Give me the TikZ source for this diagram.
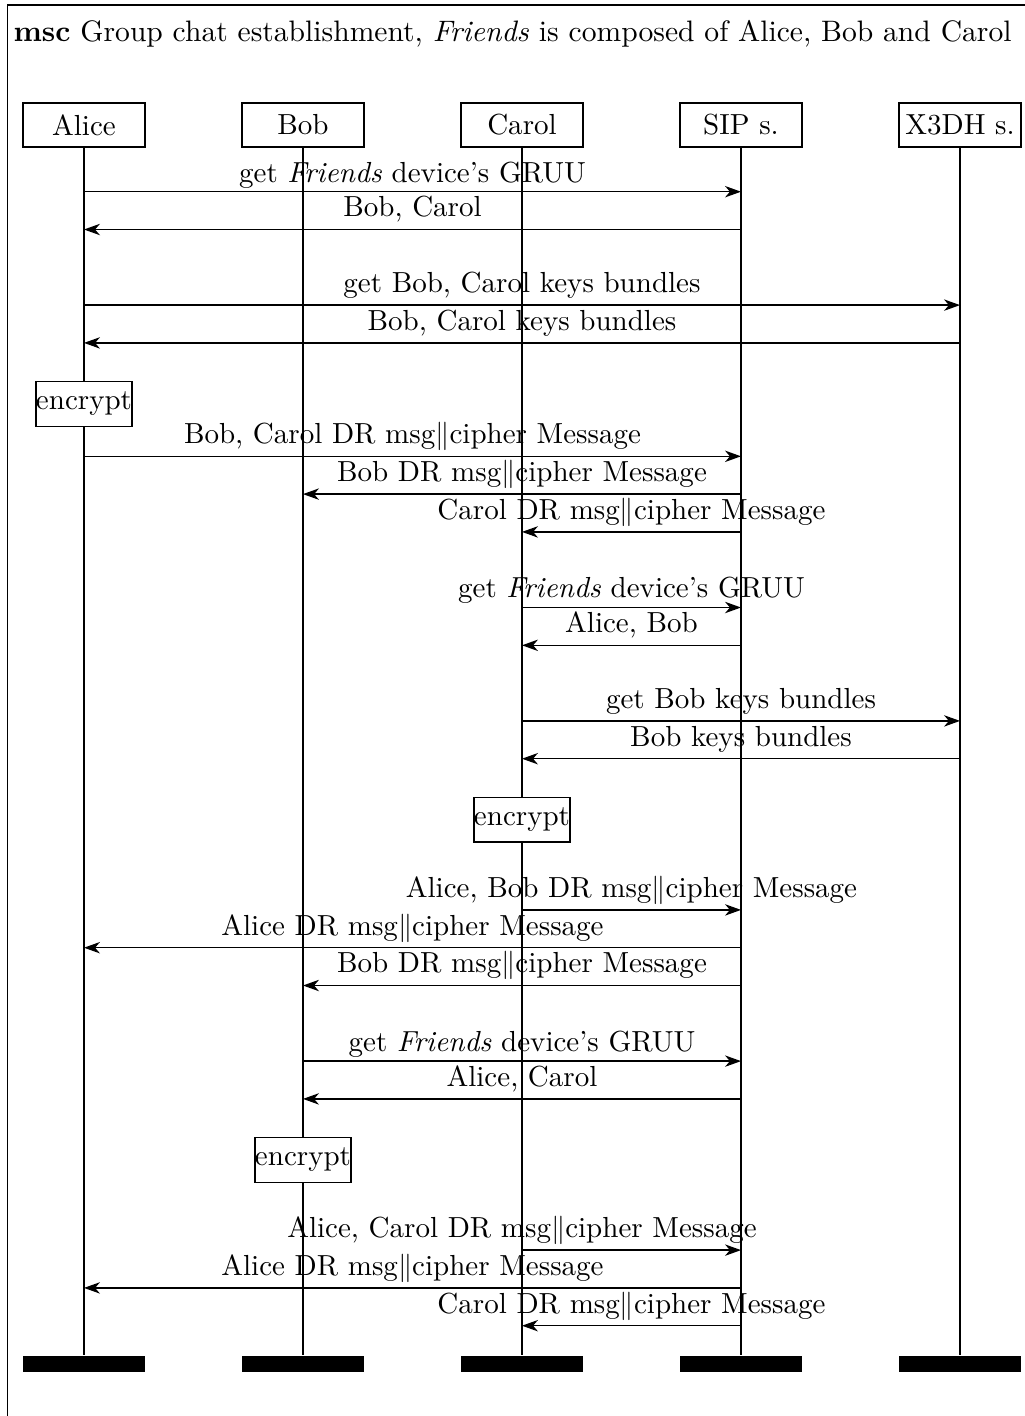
\documentclass[tikz,border=0pt]{standalone}
\usetikzlibrary{arrows.meta}
\begin{document}
\begin{tikzpicture}[x=0.3515pt,y=-0.3515pt, line width=0.45pt,
  every node/.style={font=\fontsize{10.2}{12.3}\selectfont},
  inst/.style={draw, fill=white, minimum width=42.9pt, minimum height=15.5pt, inner sep=0pt},
  bar/.style={fill=black, minimum width=42.9pt, minimum height=5.6pt, inner sep=0pt},
  act/.style={draw, fill=white, inner xsep=0pt, inner ysep=0pt, minimum height=15.8pt, anchor=north},
  msg/.style={-{Stealth[length=5.6pt,width=4pt,inset=1.7pt]}},
  lbl/.style={anchor=base, inner sep=0pt, yshift=4.46pt},
  lbllow/.style={anchor=base, inner sep=0pt, yshift=3.35pt}]
\useasboundingbox (0,0) rectangle (1025,1416);
\clip (0,0) rectangle (1025,1416);
\draw (7.5,5) rectangle (1045,1440);
\node[anchor=base west, inner sep=0pt, font=\fontsize{10.4}{12.5}\selectfont] (title) at (13,41.7) {\textbf{msc} Group chat establishment, \textit{Friends} is composed of Alice, Bob and Carol};
% instances
\node[inst] (alice) at (84,125) {Alice};
\node[inst] (bob) at (303,125) {Bob};
\node[inst] (carol) at (522,125) {Carol};
\node[inst] (sip) at (741,125) {SIP s.};
\node[inst] (x3dh) at (960,125) {X3DH s.};
\node[bar] (alicebar) at (84,1364) {};
\node[bar] (bobbar) at (303,1364) {};
\node[bar] (carolbar) at (522,1364) {};
\node[bar] (sipbar) at (741,1364) {};
\node[bar] (x3dhbar) at (960,1364) {};
\foreach \i in {alice,bob,carol,sip,x3dh} {\draw (\i) -- (\i bar);}
% actions
\node[act] (enc1) at (alice |- 0,380.7) {encrypt};
\node[act] (enc2) at (carol |- 0,796.5) {encrypt};
\node[act] (enc3) at (bob |- 0,1136.7) {encrypt};
% messages
\draw[msg] (alice |- 0,191.7) -- node[lbllow] {get \textit{Friends} device's GRUU} (sip |- 0,191.7);
\draw[msg] (sip |- 0,229.5) -- node[lbl] {Bob, Carol} (alice |- 0,229.5);
\draw[msg] (alice |- 0,305.1) -- node[lbl] {get Bob, Carol keys bundles} (x3dh |- 0,305.1);
\draw[msg] (x3dh |- 0,342.9) -- node[lbl] {Bob, Carol keys bundles} (alice |- 0,342.9);
\draw[msg] (alice |- 0,456.3) -- node[lbl] {Bob, Carol DR msg$\|$cipher Message} (sip |- 0,456.3);
\draw[msg] (sip |- 0,494.1) -- node[lbl] {Bob DR msg$\|$cipher Message} (bob |- 0,494.1);
\draw[msg] (sip |- 0,531.9) -- node[lbl] {Carol DR msg$\|$cipher Message} (carol |- 0,531.9);
\draw[msg] (carol |- 0,607.5) -- node[lbllow] {get \textit{Friends} device's GRUU} (sip |- 0,607.5);
\draw[msg] (sip |- 0,645.3) -- node[lbl] {Alice, Bob} (carol |- 0,645.3);
\draw[msg] (carol |- 0,720.9) -- node[lbl] {get Bob keys bundles} (x3dh |- 0,720.9);
\draw[msg] (x3dh |- 0,758.7) -- node[lbl] {Bob keys bundles} (carol |- 0,758.7);
\draw[msg] (carol |- 0,909.9) -- node[lbl] {Alice, Bob DR msg$\|$cipher Message} (sip |- 0,909.9);
\draw[msg] (sip |- 0,947.7) -- node[lbl] {Alice DR msg$\|$cipher Message} (alice |- 0,947.7);
\draw[msg] (sip |- 0,985.5) -- node[lbl] {Bob DR msg$\|$cipher Message} (bob |- 0,985.5);
\draw[msg] (bob |- 0,1061.1) -- node[lbllow] {get \textit{Friends} device's GRUU} (sip |- 0,1061.1);
\draw[msg] (sip |- 0,1098.9) -- node[lbl] {Alice, Carol} (bob |- 0,1098.9);
\draw[msg] (carol |- 0,1250.1) -- node[lbl, pos=0] {Alice, Carol DR msg$\|$cipher Message} (sip |- 0,1250.1);
\draw[msg] (sip |- 0,1287.9) -- node[lbl] {Alice DR msg$\|$cipher Message} (alice |- 0,1287.9);
\draw[msg] (sip |- 0,1325.7) -- node[lbl] {Carol DR msg$\|$cipher Message} (carol |- 0,1325.7);
\end{tikzpicture}
\end{document}
